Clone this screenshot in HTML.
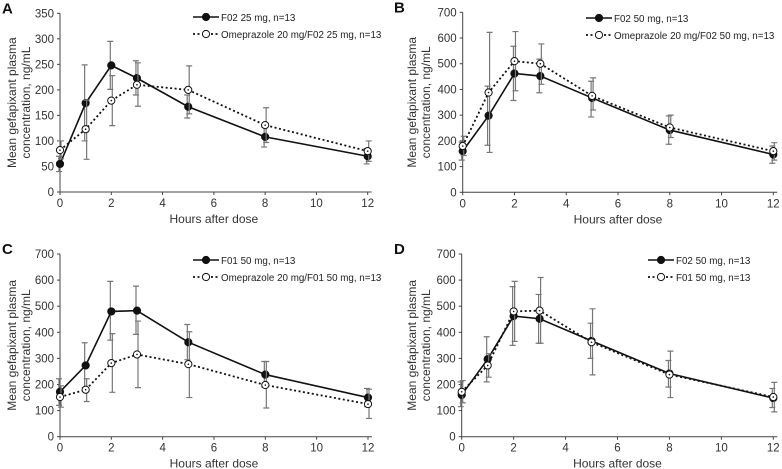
<!DOCTYPE html>
<html><head><meta charset="utf-8"><style>
body{margin:0;background:#fff}
svg{display:block;font-family:"Liberation Sans",sans-serif}
</style></head><body>
<svg id="c" width="782" height="469" viewBox="0 0 782 469"></svg>
<script>
const hours=[0,1,2,3,5,8,12];
const xTicks=[0,2,4,6,8,10,12];
const aS1=[55,174,248,223,167,108,70];
const aS1Lo=[40,100,201,190,145,88,55];
const aS1Hi=[70,249,295,257,190,127,85];
const aS2=[82,123,179,210,200,131,80];
const aS2Lo=[65,64,130,168,153,97,60];
const aS2Hi=[100,180,228,253,247,165,100];
const bS1=[160,298,462,452,367,242,147];
const bS1Lo=[125,183,357,387,293,187,113];
const bS1Hi=[195,413,568,518,432,297,180];
const bS2=[180,388,510,500,375,252,160];
const bS2Lo=[143,155,395,420,320,213,125];
const bS2Hi=[218,622,625,577,445,300,193];
const cS1=[172,273,480,483,362,238,150];
const cS1Lo=[120,188,370,392,295,190,115];
const cS1Hi=[222,360,595,577,430,288,185];
const cS2=[152,180,282,315,278,198,125];
const cS2Lo=[113,135,170,188,150,110,70];
const cS2Hi=[195,222,395,443,402,288,182];
const dS1=[160,297,462,452,367,242,148];
const dS1Lo=[115,210,350,358,300,190,112];
const dS1Hi=[210,383,575,545,435,292,185];
const dS2=[172,273,480,483,362,238,152];
const dS2Lo=[130,228,365,358,237,150,95];
const dS2Hi=[215,318,595,610,490,328,208];
const yTicksA=[0,50,100,150,200,250,300,350];
const yTicksB=[0,100,200,300,400,500,600,700];

const svg=document.getElementById('c');
const NS='http://www.w3.org/2000/svg';
function mk(tag,attrs,parent,txt){const e=document.createElementNS(NS,tag);for(const k in attrs)e.setAttribute(k,attrs[k]);if(txt!==undefined)e.textContent=txt;parent.appendChild(e);return e;}

const panels=[
 {id:'a',letter:'A',x0:60,x1:367.7,y0:192,y1:13.3,ymax:350,yt:yTicksA,s:[[aS1,aS1Lo,aS1Hi],[aS2,aS2Lo,aS2Hi]],leg:['F02 25 mg, n=13','Omeprazole 20 mg/F02 25 mg, n=13'],lx:193,ly:17,lx0:0,ax:12},
 {id:'b',letter:'B',x0:462.7,x1:773.3,y0:192.3,y1:12.3,ymax:700,yt:yTicksB,s:[[bS1,bS1Lo,bS1Hi],[bS2,bS2Lo,bS2Hi]],leg:['F02 50 mg, n=13','Omeprazole 20 mg/F02 50 mg, n=13'],lx:586,ly:18,lx0:392,ax:412},
 {id:'c',letter:'C',x0:60,x1:368,y0:436.7,y1:254,ymax:700,yt:yTicksB,s:[[cS1,cS1Lo,cS1Hi],[cS2,cS2Lo,cS2Hi]],leg:['F01 50 mg, n=13','Omeprazole 20 mg/F01 50 mg, n=13'],lx:193,ly:260,lx0:0,ax:12},
 {id:'d',letter:'D',x0:461.7,x1:773.3,y0:436.7,y1:254,ymax:700,yt:yTicksB,s:[[dS1,dS1Lo,dS1Hi],[dS2,dS2Lo,dS2Hi]],leg:['F02 50 mg, n=13','F01 50 mg, n=13'],lx:648,ly:260,lx0:392,ax:412}
];

panels.forEach(p=>{
 const g=mk('g',{},svg);
 
 
 const X=v=>p.x0+(p.x1-p.x0)*v/12;
 const Y=v=>p.y0+(p.y1-p.y0)*v/p.ymax;
 const L=mk('text',{x:p.lx0+2,y:p.y1-0,'font-size':15,'font-weight':'bold',fill:'#111'},g,p.letter);
 
 
 const ax=mk('path',{d:`M${p.x0},${p.y1} V${p.y0} H${p.x1+4}`,stroke:'#444',fill:'none','stroke-width':1},g);
 
 
 p.yt.forEach(t=>{
  mk('line',{x1:p.x0-3,x2:p.x0,y1:Y(t),y2:Y(t),stroke:'#444'},g);
  const tx=mk('text',{x:p.x0-6,y:Y(t)+4,'font-size':11.5,'text-anchor':'end',fill:'#333'},g,t);
  
  
 });
 xTicks.forEach(t=>{
  mk('line',{x1:X(t),x2:X(t),y1:p.y0,y2:p.y0+3,stroke:'#444'},g);
  const tx=mk('text',{x:X(t),y:p.y0+15,'font-size':11.5,'text-anchor':'middle',fill:'#333'},g,t);
  
  
 });
 const xt=mk('text',{x:(p.x0+p.x1)/2,y:p.y0+31,'font-size':12,'text-anchor':'middle',fill:'#333'},g,'Hours after dose');
 
 
 const cy=(p.y0+p.y1)/2;
 const yt=mk('text',{transform:`translate(${p.ax+4},${cy}) rotate(-90)`,'font-size':12,'text-anchor':'middle',fill:'#333'},g);
 
 
 mk('tspan',{x:0,dy:0},yt,'Mean gefapixant plasma');
 mk('tspan',{x:0,dy:14},yt,'concentration, ng/mL');
 p.s.forEach((s,si)=>{
  const [vals,lo,hi]=s;
  const sg=mk('g',{},g);
  
  
  hours.forEach((h,i)=>{
   const x=X(h)+(si?1:-1);
   mk('path',{d:`M${x},${Y(lo[i])}V${Y(hi[i])}M${x-3},${Y(lo[i])}h6M${x-3},${Y(hi[i])}h6`,stroke:'#777','stroke-width':1.2,fill:'none'},sg);
  });
  const pts=hours.map((h,i)=>X(h)+','+Y(vals[i])).join(' ');
  mk('polyline',{points:pts,fill:'none',stroke:'#111','stroke-width':si?1.8:1.6,'stroke-dasharray':si?'2,2.5':''},sg);
  hours.forEach((h,i)=>{
   const m=mk('circle',{cx:X(h),cy:Y(vals[i]),r:3.6,fill:si?'#fff':'#111',stroke:'#111','stroke-width':1},sg);
   
   
   if(si)mk('circle',{cx:X(h),cy:Y(vals[i]),r:0.8,fill:'#111'},sg);
  });
 });
 p.leg.forEach((t,i)=>{
  const y=p.ly+i*17;
  const lg=mk('g',{},g);
  
  
  mk('line',{x1:p.lx,x2:p.lx+26,y1:y,y2:y,stroke:'#111','stroke-width':i?1.8:1.6,'stroke-dasharray':i?'2,2.5':''},lg);
  mk('circle',{cx:p.lx+13,cy:y,r:3.6,fill:i?'#fff':'#111',stroke:'#111'},lg);
  mk('text',{x:p.lx+28,y:y+4,'font-size':9.8,fill:'#222'},lg,t);
 });
});
</script>
</body></html>
